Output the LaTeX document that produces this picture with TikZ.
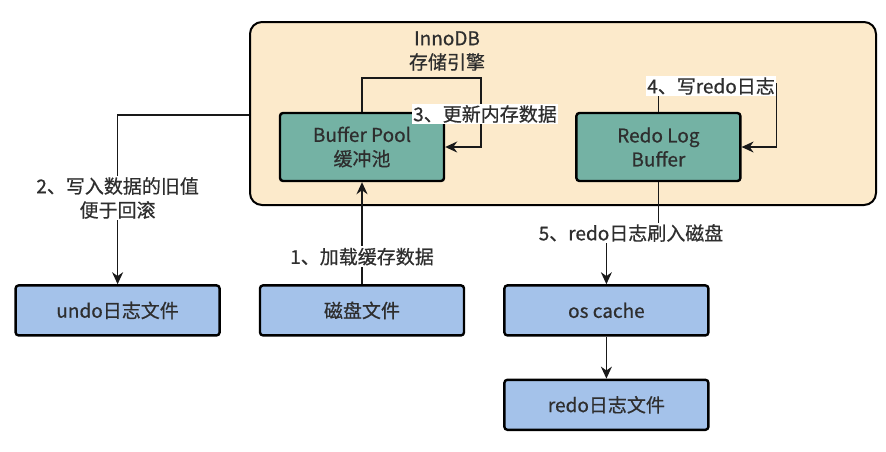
\documentclass[tikz,border=0pt]{standalone}
\usepackage{fontspec}
\setmainfont{Noto Sans CJK SC}[FakeBold=0.6]
\usetikzlibrary{positioning,arrows.meta,calc}
\definecolor{enginefill}{HTML}{FCEACB}
\definecolor{poolfill}{HTML}{74B2A4}
\definecolor{filefill}{HTML}{A4C2EA}
\definecolor{textgray}{HTML}{2E2E2E}
\tikzset{
  every node/.style={font=\fontsize{19}{24}\selectfont, text=textgray},
  enginebox/.style={draw=black, fill=enginefill, line width=2pt, rounded corners=12pt,
    minimum width=626pt, minimum height=183pt},
  membox/.style={draw=black, fill=poolfill, line width=2.4pt, rounded corners=3pt,
    minimum width=164pt, minimum height=68pt, align=center, inner sep=0pt},
  filebox/.style={membox, fill=filefill, minimum width=204pt, minimum height=50pt},
  flow/.style={draw=black!90, line width=1.4pt},
  arrowflow/.style={flow, -{Stealth[length=12pt,width=11pt]}},
  steplabel/.style={fill=white, inner sep=1.5pt, align=center},
}

\begin{document}
\begin{tikzpicture}[x=1pt,y=-1pt]
      \useasboundingbox (0,0) rectangle (886,451);

      \node[enginebox] (engine) at (563,113.5) {};
      \node[align=center] (title) at (447,51) {InnoDB\\存储引擎};

      \node[membox] (pool) at (362,147) {Buffer Pool\\缓冲池};
      \node[membox, right=130pt of pool] (redobuf) {Redo Log\\Buffer};

      \node[filebox, below=102pt of pool] (disk) {磁盘文件};
      \node[filebox, left=38pt of disk] (undo) {undo日志文件};
      \node[filebox, right=38pt of disk] (oscache) {os cache};
      \node[filebox, below=42pt of oscache] (redofile) {redo日志文件};

      \coordinate (flushbend) at (redobuf.south |- 0,233);

      % 1
      \draw[arrowflow] (disk.north) -- node[steplabel, pos=0.27] {1、加载缓存数据} (pool.south);
      % 2
      \draw[arrowflow] ([yshift=-1.5pt]engine.west) -| (undo.north);
      \node[steplabel] (rollbacklabel) at (undo.north |- 0,198) {2、写入数据的旧值\\便于回滚};
      % 3
      \draw[arrowflow] (pool.north) -- ++(0,-34) -- ++(119,0) |- (pool.east);
      \node[steplabel] (updatelabel) at (485,114) {3、更新内存数据};
      % 4
      \draw[arrowflow] (redobuf.north) -- ++(0,-28) -- ++(118,0) |- (redobuf.east);
      \node[steplabel] (writelabel) at (711,86) {4、写redo日志};
      % 5
      \draw[arrowflow] (redobuf.south) -- (flushbend) -| (oscache.north);
      \node[steplabel] (flushlabel) at (631,233) {5、redo日志刷入磁盘};

      \draw[arrowflow] (oscache) -- (redofile);
\end{tikzpicture}
\end{document}
